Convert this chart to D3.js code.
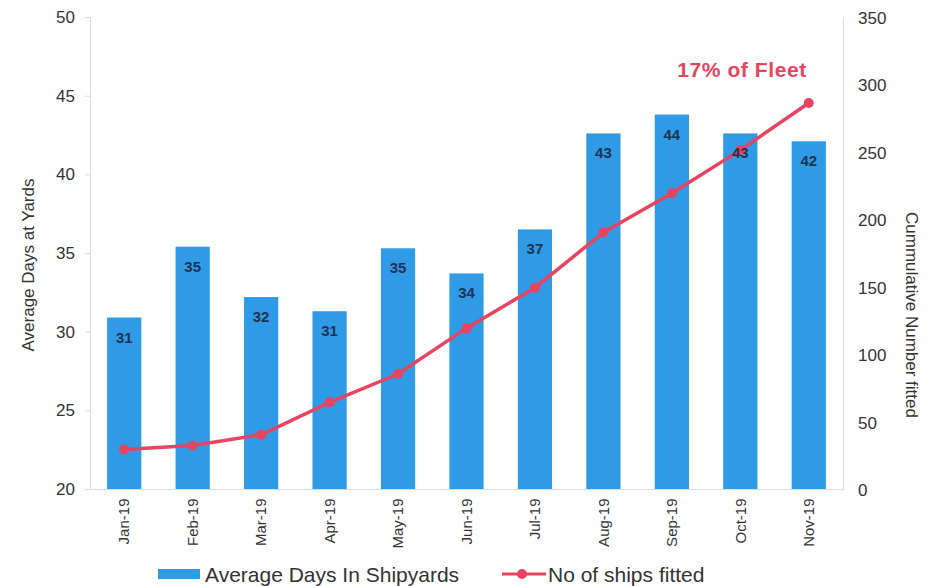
<!DOCTYPE html>
<html><head><meta charset="utf-8">
<script src="https://cdn.jsdelivr.net/npm/d3@7"></script>
<style>body{margin:0;background:#fff;}svg{display:block;font-family:"Liberation Sans",Arial,sans-serif;}</style>
</head><body>
<svg id="c" width="931" height="586"></svg>
<script>
const months = ["Jan-19","Feb-19","Mar-19","Apr-19","May-19","Jun-19","Jul-19","Aug-19","Sep-19","Oct-19","Nov-19"];
const avgDays = [30.9,35.4,32.2,31.3,35.3,33.7,36.5,42.6,43.8,42.6,42.1];
const shipsFitted = [30,33,41,65,86,120,150,191,220,252,287];
const leftTicks = [20,25,30,35,40,45,50];
const rightTicks = [0,50,100,150,200,250,300,350];

const svg = d3.select("#c");
const L = 90, R = 843, T = 17, B = 489;
const x = d3.scaleBand().domain(months).range([L, R]).paddingInner(0.5).paddingOuter(0.25);
const yL = d3.scaleLinear().domain([20,50]).range([B, T]);
const yR = d3.scaleLinear().domain([0,350]).range([B+1, T+1]);

const blue = "#2f9be6", red = "#e8435f", grey = "#d9dde3", txt = "#333";

// axes
const gL = svg.append("g").attr("transform",`translate(${L},0)`)
  .call(d3.axisLeft(yL).tickValues(leftTicks).tickSize(5).tickPadding(10));
const gR = svg.append("g").attr("transform",`translate(${R},0)`)
  .call(d3.axisRight(yR).tickValues(rightTicks).tickSize(0).tickPadding(15));
const gB = svg.append("g").attr("transform",`translate(0,${B})`)
  .call(d3.axisBottom(x).tickSize(0).tickPadding(7));
[gL,gR,gB].forEach(g=>{
  g.selectAll(".domain").attr("stroke",grey);
  g.selectAll(".tick line").attr("stroke",grey);
  g.selectAll("text").attr("fill",txt).style("font-size","17px");
});
gB.selectAll("text").style("font-size","15px")
  .attr("transform","rotate(-90)").attr("text-anchor","end")
  .attr("dx","-0.5em").attr("dy","0.35em").attr("y",0).attr("x",-2);

// bars
svg.append("g").selectAll("rect").data(months).join("rect")
  .attr("x", d=>x(d)).attr("width", x.bandwidth())
  .attr("y",(d,i)=>yL(avgDays[i])).attr("height",(d,i)=>B-yL(avgDays[i]))
  .attr("fill",blue);

// line
const line = d3.line().x((d,i)=>x(months[i])+x.bandwidth()/2).y(d=>yR(d));
svg.append("path").datum(shipsFitted).attr("d",line)
  .attr("fill","none").attr("stroke",red).attr("stroke-width",3.5);
svg.append("g").selectAll("circle").data(shipsFitted).join("circle")
  .attr("cx",(d,i)=>x(months[i])+x.bandwidth()/2).attr("cy",d=>yR(d)).attr("r",5)
  .attr("fill",red);

// bar labels
svg.append("g").selectAll("text").data(avgDays).join("text")
  .attr("x",(d,i)=>x(months[i])+x.bandwidth()/2).attr("y",d=>yL(d)+25)
  .attr("text-anchor","middle").attr("fill","#1f3350")
  .style("font-size","15px").style("font-weight","bold")
  .text(d=>Math.round(d));

// annotation
svg.append("text").attr("x",742).attr("y",77).attr("text-anchor","middle")
  .attr("fill",red).style("font-size","21px").style("font-weight","bold").style("letter-spacing","0.6px").text("17% of Fleet");

// axis titles
svg.append("text").attr("transform","translate(34,265) rotate(-90)").attr("text-anchor","middle")
  .attr("fill",txt).style("font-size","17px").text("Average Days at Yards");
svg.append("text").attr("transform","translate(906,315) rotate(90)").attr("text-anchor","middle")
  .attr("fill",txt).style("font-size","17px").text("Cummulative Number fitted");

// legend
const lg = svg.append("g");
lg.append("rect").attr("x",158).attr("y",569).attr("width",42).attr("height",10).attr("fill",blue);
lg.append("text").attr("x",205).attr("y",582).attr("fill",txt).style("font-size","21px").text("Average Days In Shipyards");
lg.append("line").attr("x1",502).attr("x2",546).attr("y1",574).attr("y2",574).attr("stroke",red).attr("stroke-width",3);
lg.append("circle").attr("cx",522).attr("cy",574).attr("r",5).attr("fill",red);
lg.append("text").attr("x",548).attr("y",582).attr("fill",txt).style("font-size","21px").text("No of ships fitted");
</script>
</body></html>
